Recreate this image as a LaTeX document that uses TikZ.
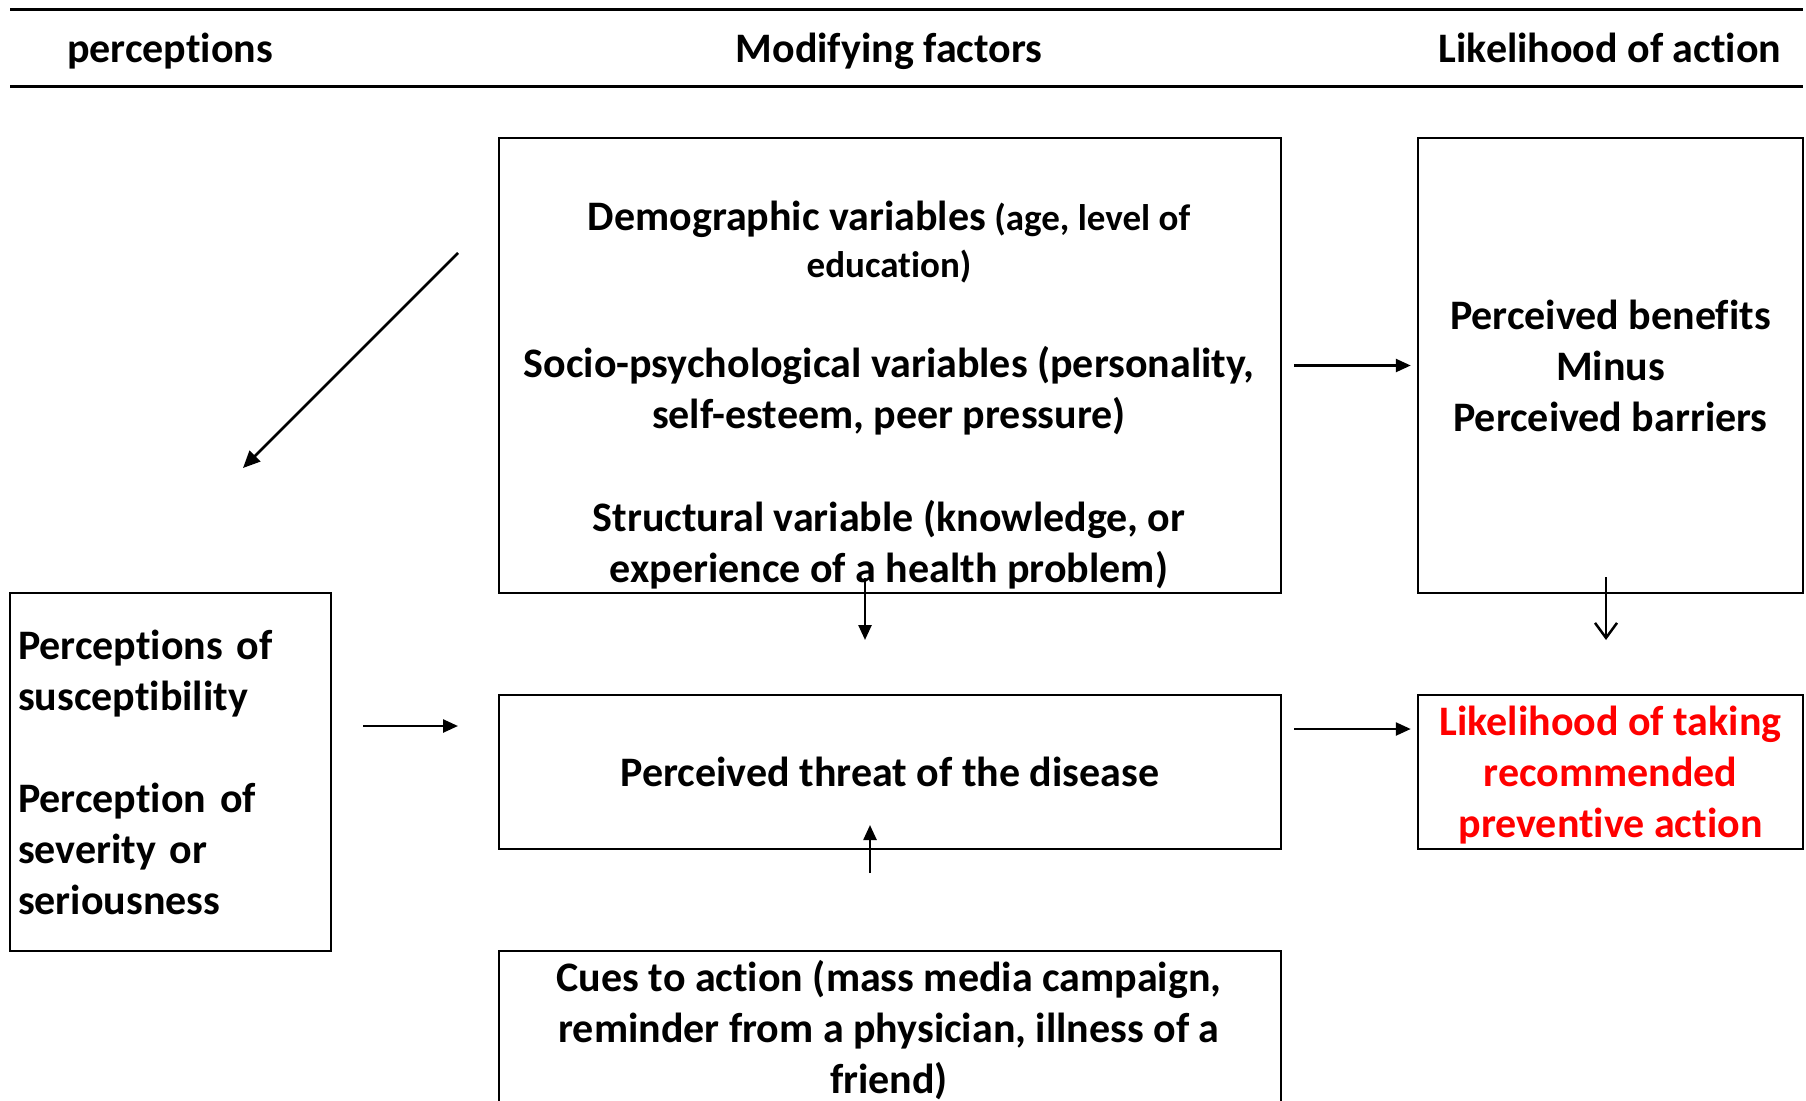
\documentclass[tikz,border=0pt]{standalone}
\usepackage{fontspec}
\setmainfont{Carlito}[Ligatures={NoCommon}]
\usetikzlibrary{arrows.meta}
\begin{document}
\begin{tikzpicture}[x=1pt,y=-1pt,
  box/.style={draw,line width=2.5pt,inner sep=0pt},
  txt/.style={font=\fontsize{42}{51}\selectfont\bfseries,align=center,inner sep=0pt},
  head/.style={txt,text height=29pt,text depth=0pt},
  arr/.style={line width=2.5pt,-{Triangle[length=15pt,width=13pt]}},
  oarr/.style={line width=2.5pt,-{Straight Barb[length=15pt,width=22pt]}},
  hline/.style={line width=3pt}]
\useasboundingbox (0,0) rectangle (1806,1100);
\clip (0,0) rectangle (1806,1100);
\fill[white] (0,0) rectangle (1806,1100);
% header
\coordinate (hl1a) at (10,9);
\coordinate (hl1b) at (1803,9);
\coordinate (hl2a) at (10,86);
\coordinate (hl2b) at (1803,86);
\draw[hline] (hl1a) -- (hl1b);
\draw[hline] (hl2a) -- (hl2b);
\node[head] (h1) at (170,48) {perceptions};
\node[head] (h2) at (889,48) {Modifying factors};
\node[head] (h3) at (1610,48) {Likelihood of action};
% boxes
\node[box,minimum width=782pt,minimum height=455pt] (mod) at (890,365.5) {};
\node[box,minimum width=385pt,minimum height=455pt,txt] (ben) at (1610.5,365.5) {Perceived benefits\\Minus\\Perceived barriers};
\node[box,minimum width=321pt,minimum height=358pt,txt,align=left,text width=305pt] (perc) at (170.5,772) {Perceptions of\\susceptibility\\[51pt]Perception of\\severity or\\seriousness};
\node[box,minimum width=782pt,minimum height=154pt,txt] (threat) at (890,772) {Perceived threat of the disease};
\node[box,minimum width=385pt,minimum height=154pt] (like) at (1610.5,772) {};
\node[txt,text=red] (liketxt) at (1610.5,775) {Likelihood of taking\\recommended\\preventive action};
\node[box,minimum width=782pt,minimum height=200pt] (cues) at (890,1051) {};
% texts in modifying box
\node[txt,font=\fontsize{37}{47}\selectfont\bfseries] (demo) at (889,242.5) {{\fontsize{42}{47}\selectfont Demographic variables} (age, level of\\education)};
\node[txt] (socio) at (889,390.5) {Socio-psychological variables (personality,\\self-esteem, peer pressure)};
\node[txt] (struct) at (889,544.5) {Structural variable (knowledge, or\\experience of a health problem)};
\node[txt] (cuetxt) at (889,1030.5) {Cues to action (mass media campaign,\\reminder from a physician, illness of a\\friend)};
% connectors
\coordinate (d1) at (458,253);
\coordinate (d2) at (243,468);
\draw[line width=2.5pt,-{Triangle[length=17pt,width=15pt]}] (d1) -- (d2);
\coordinate (p1) at (363,726);
\coordinate (p2) at (458,726);
\draw[arr] (p1) -- (p2);
\draw[arr,shorten <=12pt,shorten >=6pt] (mod.east) -- (ben.west);
\draw[arr,shorten <=12pt,shorten >=6pt] ([yshift=43pt]threat.east) -- ([yshift=43pt]like.west);
\coordinate (m1) at (865,578);
\coordinate (m2) at (865,640);
\draw[arr] (m1) -- (m2);
\coordinate (b1) at (1606,577);
\coordinate (b2) at (1606,640);
\draw[oarr] (b1) -- (b2);
\coordinate (c1) at (870,873);
\coordinate (c2) at (870,825);
\draw[arr] (c1) -- (c2);
\end{tikzpicture}
\end{document}
